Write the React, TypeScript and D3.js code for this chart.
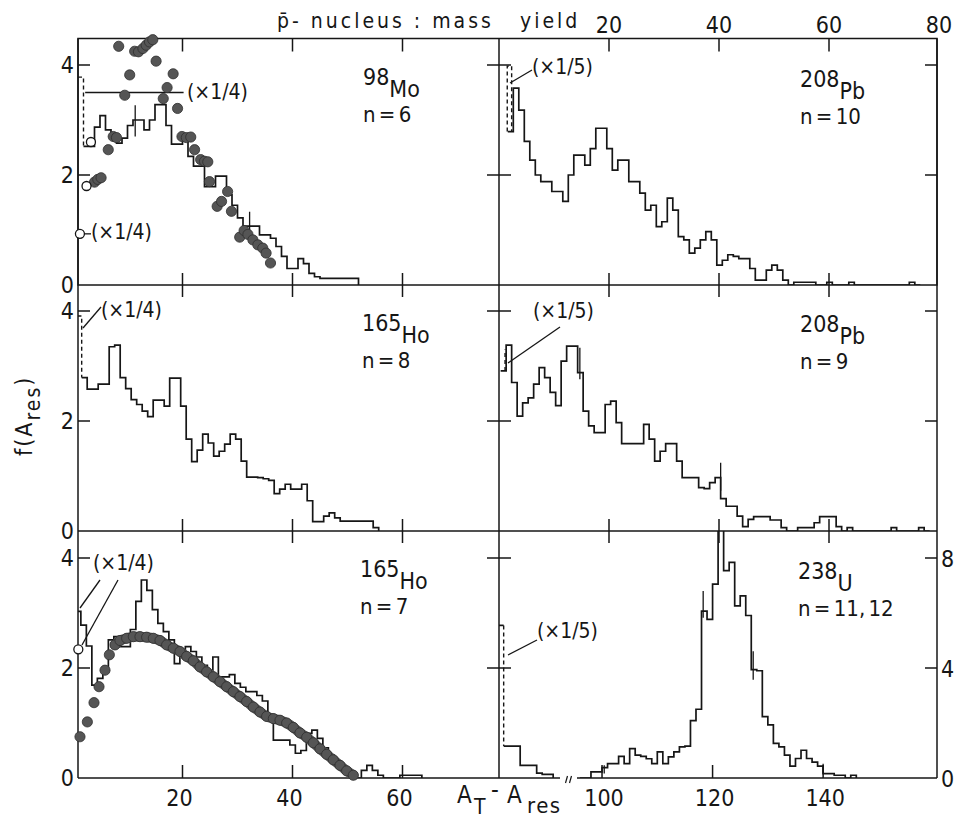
import React from "react";
import * as d3 from "d3";

const FONT = "'DejaVu Sans Condensed', 'Liberation Sans Narrow', 'DejaVu Sans', sans-serif";
const INK = "#161616";
const DOT = "#555555";

// ---------- frame ----------
const X_LEFT = 78;
const X_MID = 499;
const X_RIGHT = 937;
const ROWS = [38.5, 285, 531, 778];

// ---------- axis values ----------
const yTickVals = [2, 4];
const yLabelVals = [0, 2, 4];
const xTickVals = [20, 40, 60];
const topLabelVals = [20, 40, 60, 80];
const bottomLeftLabelVals = [20, 40, 60];
const bottomRightLabelVals = [100, 120, 140];
const uranRightLabelVals = [0, 4, 8];

// ---------- top-left: 98Mo, n = 6 ----------
const moStart = 2;
const moHist = [2.52, 2.52, 2.87, 3.08, 2.82, 2.67, 2.58, 2.67, 2.9, 3.0, 3.0, 2.82, 3.0, 3.28, 3.28, 2.9, 2.56, 2.56, 2.67, 2.34, 2.16, 2.16, 1.79, 1.79, 1.98, 1.98, 1.64, 1.45, 1.22, 1.07, 1.07, 1.07, 0.91, 0.91, 0.85, 0.7, 0.52, 0.3, 0.3, 0.48, 0.39, 0.21, 0.15, 0.12, 0.12, 0.12, 0.12, 0.12, 0.12, 0.12];
const moDashA = [1.0, 2.0, 2.0];
const moDashF = [3.78, 3.78, 2.52];
const moDotA = [4.0, 4.6, 5.2, 6.5, 7.4, 8.0, 8.4, 9.5, 10.4, 11.3, 12.0, 12.8, 13.4, 14.0, 14.6, 15.2, 16.5, 17.2, 18.3, 19.1, 19.9, 20.7, 21.5, 22.2, 23.3, 24.0, 24.6, 24.9, 26.3, 27.1, 28.2, 28.9, 30.4, 31.2, 31.9, 32.8, 33.7, 34.6, 35.2, 36.0];
const moDotF = [1.87, 1.92, 1.95, 2.46, 2.7, 2.68, 4.34, 3.45, 3.82, 4.25, 4.24, 4.3, 4.36, 4.42, 4.46, 4.07, 3.39, 3.59, 3.84, 3.21, 2.7, 2.68, 2.69, 2.46, 2.28, 2.25, 2.24, 1.88, 1.43, 1.52, 1.7, 1.34, 0.87, 0.99, 0.92, 0.82, 0.73, 0.67, 0.58, 0.4];
const moOpenA = [1.35, 2.55, 3.35];
const moOpenF = [0.93, 1.8, 2.6];
const moRefA = [2.3, 20.2];
const moRefF = 3.5;
const moErrA = [11.4, 32.2];
const moErrLo = [2.7, 0.82];
const moErrHi = [3.27, 1.33];

// ---------- top-right: 208Pb, n = 10 ----------
const pb10Start = 1.6;
const pb10Hist = [2.79, 3.58, 3.18, 2.61, 2.27, 2.0, 1.88, 1.88, 1.7, 1.7, 1.52, 2.0, 2.36, 2.36, 2.18, 2.48, 2.85, 2.85, 2.48, 2.09, 2.27, 2.27, 1.88, 1.88, 1.67, 1.36, 1.45, 1.06, 1.15, 1.58, 1.36, 0.88, 0.82, 0.58, 0.67, 0.82, 0.97, 0.82, 0.36, 0.45, 0.55, 0.52, 0.48, 0.48, 0.3, 0.09, 0.09, 0.27, 0.36, 0.27, 0.09, 0, 0.05, 0.05, 0.05, 0.05, 0, 0, 0.05, 0, 0, 0, 0.05, 0, 0, 0, 0, 0, 0, 0, 0, 0, 0, 0.05, 0];
const pb10DashA = [1.5, 1.5, 2.3, 2.3];
const pb10DashF = [2.79, 3.98, 3.98, 2.79];

// ---------- middle-left: 165Ho, n = 8 ----------
const ho8Start = 1.67;
const ho8Hist = [2.79, 2.58, 2.58, 2.67, 2.67, 3.35, 3.38, 2.79, 2.59, 2.39, 2.3, 2.18, 2.08, 2.38, 2.38, 2.27, 2.78, 2.78, 2.27, 1.67, 1.26, 1.47, 1.76, 1.6, 1.36, 1.45, 1.58, 1.76, 1.67, 1.27, 0.98, 0.98, 0.97, 0.95, 0.92, 0.68, 0.76, 0.85, 0.76, 0.76, 0.85, 0.55, 0.17, 0.17, 0.27, 0.33, 0.24, 0.18, 0.18, 0.18, 0.18, 0.18, 0.18, 0.06];
const ho8DashA = [0.9, 1.67, 1.67];
const ho8DashF = [3.91, 3.91, 2.79];

// ---------- middle-right: 208Pb, n = 9 ----------
const pb9Start = 0.3;
const pb9Hist = [2.91, 3.38, 2.7, 2.09, 2.33, 2.42, 2.67, 2.97, 2.79, 2.52, 2.28, 3.09, 3.36, 3.36, 2.88, 2.18, 1.91, 1.79, 1.79, 2.3, 2.36, 1.97, 1.59, 1.59, 1.59, 1.59, 1.94, 1.67, 1.27, 1.45, 1.59, 1.59, 1.27, 0.97, 0.97, 0.97, 0.79, 0.77, 0.88, 0.97, 0.59, 0.45, 0.45, 0.27, 0.08, 0.21, 0.26, 0.26, 0.26, 0.2, 0.2, 0.06, 0, 0, 0.06, 0.06, 0.06, 0.15, 0.26, 0.26, 0.26, 0.08, 0, 0.06, 0, 0, 0, 0, 0, 0, 0, 0.06, 0, 0, 0, 0, 0.06, 0];
const pb9DashA = [1.1, 1.1];
const pb9DashF = [2.91, 3.3];
const pb9ErrA = [14.7, 40.3];
const pb9ErrLo = [2.76, 0.73];
const pb9ErrHi = [3.33, 1.24];

// ---------- bottom-left: 165Ho, n = 7 ----------
const ho7Start = 0.52;
const ho7Hist = [3.03, 2.78, 2.4, 1.69, 1.81, 1.93, 2.51, 2.57, 2.39, 2.39, 2.7, 3.21, 3.6, 3.41, 3.06, 2.81, 2.66, 2.51, 2.08, 2.3, 2.39, 2.3, 2.2, 2.05, 1.95, 2.2, 1.84, 1.84, 1.88, 1.72, 1.65, 1.57, 1.57, 1.5, 1.4, 1.05, 0.69, 0.69, 0.69, 0.6, 0.45, 0.5, 0.81, 0.87, 0.72, 0.55, 0.42, 0.3, 0.18, 0.07, 0, 0, 0.14, 0.23, 0.14, 0.05, 0, 0, 0, 0.05, 0.05, 0.05, 0.05];
const ho7CurveA = [1.36, 2.7, 3.91, 4.82, 5.91, 6.7, 7.73, 8.64, 9.85, 11.06, 12.27, 13.48, 14.7, 15.91, 17.12, 18.33, 19.55, 20.76, 21.97, 23.18, 24.39, 25.61, 26.82, 28.03, 29.24, 30.45, 31.67, 32.88, 34.09, 35.3, 36.52, 37.73, 38.94, 40.15, 41.36, 42.58, 43.79, 45.0, 46.21, 47.42, 48.64, 49.85, 51.06];
const ho7CurveF = [0.75, 1.02, 1.37, 1.66, 1.96, 2.24, 2.42, 2.5, 2.54, 2.57, 2.57, 2.56, 2.54, 2.5, 2.42, 2.36, 2.3, 2.21, 2.13, 2.02, 1.93, 1.84, 1.75, 1.66, 1.57, 1.48, 1.39, 1.29, 1.2, 1.12, 1.08, 1.05, 1.0, 0.92, 0.82, 0.74, 0.64, 0.53, 0.43, 0.33, 0.23, 0.13, 0.05];
const ho7OpenA = [1.06];
const ho7OpenF = [2.34];

// ---------- bottom-right: 238U, n = 11, 12 (right-hand scale) ----------
const uLowStart = 0.85;
const uLowHist = [1.16, 1.16, 1.16, 0.46, 0.46, 0.46, 0.18, 0.13, 0.13];
const uFirstA = [-0.2, 0.85];
const uFirstF = 5.55;
const uHighStart = 96;
const uHighHist = [0, 0, 0.22, 0.22, 0.38, 0.52, 0.52, 0.79, 0.52, 1.07, 0.83, 0.79, 0.7, 0.52, 0.95, 0.52, 0.77, 0.95, 1.13, 1.16, 2.09, 2.5, 6.07, 5.77, 7.05, 9.3, 7.54, 7.84, 6.26, 6.62, 5.91, 3.94, 3.9, 2.23, 1.93, 1.26, 1.13, 0.83, 0.43, 0.71, 1.01, 0.71, 0.58, 0.43, 0.16, 0.16, 0.1, 0.1, 0, 0.1];
const uErrA = [118.3, 127.35, 100.4, 140.0];
const uErrLo = [5.83, 3.57, 0.16, 0.16];
const uErrHi = [6.8, 4.61, 0.46, 0.52];

type Scale = d3.ScaleLinear<number, number>;

function stepPath(x: Scale, y: Scale, start: number, vals: number[]) {
  const pts: [number, number][] = vals.map((v, i) => [start + i, v]);
  pts.push([start + vals.length, 0]);
  return d3
    .line<[number, number]>()
    .x((d) => x(d[0]))
    .y((d) => y(d[1]))
    .curve(d3.curveStepAfter)(pts) as string;
}

function polyPath(x: Scale, y: Scale, xs: number[], fs: number[]) {
  const pts: [number, number][] = xs.map((a, i) => [a, fs[i]]);
  return d3
    .line<[number, number]>()
    .x((d) => x(d[0]))
    .y((d) => y(d[1]))(pts) as string;
}

export default function App() {
  const xL = d3.scaleLinear().domain([0, 80]).range([72.5, 512.5]);
  const xR = d3.scaleLinear().domain([0, 80]).range([499, 939]);
  const xU = d3.scaleLinear().domain([0, 12.5, 93.8, 160.6]).range([499, 567.75, 567.75, 937]);
  const yRow = (r: number) =>
    d3.scaleLinear().domain([0, 4.48]).range([ROWS[r + 1], ROWS[r + 1] - 4.48 * 55]);
  const y0 = yRow(0);
  const y1 = yRow(1);
  const y2 = yRow(2);
  const yU = d3.scaleLinear().domain([0, 8.96]).range([ROWS[3], ROWS[3] - 4.48 * 55]);

  const lineProps = { fill: "none", stroke: INK, strokeWidth: 1.5 } as const;
  const histProps = { fill: "none", stroke: INK, strokeWidth: 1.7, strokeLinejoin: "miter" as const };
  const dashProps = { fill: "none", stroke: INK, strokeWidth: 1.4, strokeDasharray: "4 3" };
  const textProps = { fontFamily: FONT, fill: INK };

  const clip = (id: string, x0: number, x1: number, r: number) => (
    <clipPath id={id}>
      <rect x={x0} y={ROWS[r]} width={x1 - x0} height={ROWS[r + 1] - ROWS[r]} />
    </clipPath>
  );

  const ticks: JSX.Element[] = [];
  [y0, y1, y2].forEach((ys, r) => {
    yTickVals.forEach((v) => {
      const yy = ys(v);
      ticks.push(<line key={`tl${r}${v}`} x1={X_LEFT} x2={X_LEFT + 12} y1={yy} y2={yy} {...lineProps} />);
      ticks.push(<line key={`tm${r}${v}`} x1={X_MID - 12} x2={X_MID + 12} y1={yy} y2={yy} {...lineProps} />);
      ticks.push(<line key={`tr${r}${v}`} x1={X_RIGHT - 12} x2={X_RIGHT} y1={yy} y2={yy} {...lineProps} />);
    });
  });
  xTickVals.forEach((v) => {
    [xL(v), xR(v)].forEach((xx, k) => {
      ticks.push(<line key={`tt${v}${k}`} x1={xx} x2={xx} y1={ROWS[0]} y2={ROWS[0] + 13} {...lineProps} />);
      ticks.push(<line key={`t1${v}${k}`} x1={xx} x2={xx} y1={ROWS[1] - 12} y2={ROWS[1] + 12} {...lineProps} />);
      ticks.push(<line key={`t2${v}${k}`} x1={xx} x2={xx} y1={ROWS[2] - 12} y2={ROWS[2] + 12} {...lineProps} />);
    });
    ticks.push(<line key={`tb${v}`} x1={xL(v)} x2={xL(v)} y1={ROWS[3] - 13} y2={ROWS[3]} {...lineProps} />);
  });
  bottomRightLabelVals.forEach((v) => {
    ticks.push(<line key={`tbu${v}`} x1={xU(v)} x2={xU(v)} y1={ROWS[3] - 13} y2={ROWS[3]} {...lineProps} />);
  });

  const dots = (x: Scale, y: Scale, as: number[], fs: number[], key: string) =>
    as.map((a, i) => (
      <circle key={`${key}${i}`} cx={x(a)} cy={y(fs[i])} r={5.1} fill={DOT} stroke="#2e2e2e" strokeWidth={0.8} />
    ));
  const opens = (x: Scale, y: Scale, as: number[], fs: number[], key: string) =>
    as.map((a, i) => (
      <circle key={`${key}${i}`} cx={x(a)} cy={y(fs[i])} r={4.5} fill="#fff" stroke={INK} strokeWidth={1.3} />
    ));
  const errs = (x: Scale, y: Scale, as: number[], lo: number[], hi: number[], key: string) =>
    as.map((a, i) => (
      <line key={`${key}${i}`} x1={x(a)} x2={x(a)} y1={y(lo[i])} y2={y(hi[i])} stroke={INK} strokeWidth={1.3} />
    ));

  const curvePts: [number, number][] = ho7CurveA.map((a, i) => [a, ho7CurveF[i]]);
  const band = d3
    .line<[number, number]>()
    .x((d) => xL(d[0]))
    .y((d) => y2(d[1]))
    .curve(d3.curveMonotoneX)(curvePts.slice(6)) as string;

  const panelLabel = (x: number, yb: number, mass: string, el: string, n: string) => (
    <g>
      <text x={x} y={yb} fontSize={23} {...textProps}>
        {mass}
        <tspan dy={12}>{el}</tspan>
      </text>
      <text x={x} y={yb + 37} fontSize={22} wordSpacing={-3} {...textProps}>
        {n}
      </text>
    </g>
  );

  const note = (x: number, y: number, s: string) => (
    <text x={x} y={y} fontSize={21} {...textProps}>
      {s}
    </text>
  );

  return (
    <svg
      width={957}
      height={818}
      viewBox="0 0 957 818"
      style={{ position: "absolute", left: 0, top: 0, background: "#fff" }}
    >
      <defs>
        {clip("cTL", X_LEFT, X_MID, 0)}
        {clip("cTR", X_MID, X_RIGHT, 0)}
        {clip("cML", X_LEFT, X_MID, 1)}
        {clip("cMR", X_MID, X_RIGHT, 1)}
        {clip("cBL", X_LEFT, X_MID, 2)}
        {clip("cBR", X_MID, X_RIGHT, 2)}
      </defs>
      <rect x={0} y={0} width={957} height={818} fill="#fff" />

      {/* frame */}
      <rect x={X_LEFT} y={ROWS[0]} width={X_RIGHT - X_LEFT} height={ROWS[1] - ROWS[0]} {...lineProps} />
      <line x1={X_LEFT} x2={X_LEFT} y1={ROWS[0]} y2={ROWS[3]} {...lineProps} />
      <line x1={X_RIGHT} x2={X_RIGHT} y1={ROWS[0]} y2={ROWS[3]} {...lineProps} />
      <line x1={X_MID} x2={X_MID} y1={ROWS[0]} y2={ROWS[3]} {...lineProps} />
      <line x1={X_LEFT} x2={X_RIGHT} y1={ROWS[2]} y2={ROWS[2]} {...lineProps} />
      <line x1={X_LEFT} x2={560} y1={ROWS[3]} y2={ROWS[3]} {...lineProps} />
      <line x1={577} x2={X_RIGHT} y1={ROWS[3]} y2={ROWS[3]} {...lineProps} />
      <line x1={565.5} x2={567.5} y1={783} y2={776} stroke={INK} strokeWidth={1.2} />
      <line x1={569.5} x2={571.5} y1={783} y2={776} stroke={INK} strokeWidth={1.2} />
      {ticks}

      {/* top-left */}
      <g clipPath="url(#cTL)">
        <path d={stepPath(xL, y0, moStart, moHist)} {...histProps} />
        <path d={polyPath(xL, y0, moDashA, moDashF)} {...dashProps} />
        <line x1={xL(moRefA[0])} x2={xL(moRefA[1])} y1={y0(moRefF)} y2={y0(moRefF)} stroke={INK} strokeWidth={1.4} />
        {errs(xL, y0, moErrA, moErrLo, moErrHi, "me")}
      </g>
      {dots(xL, y0, moDotA, moDotF, "md")}
      {opens(xL, y0, moOpenA, moOpenF, "mo")}
      <line x1={xL(moOpenA[0]) + 4.5} x2={91} y1={y0(moOpenF[0])} y2={y0(moOpenF[0])} stroke={INK} strokeWidth={1.3} />
      {note(91, 239, "(×1/4)")}
      {note(187, 99, "(×1/4)")}

      {/* top-right */}
      <g clipPath="url(#cTR)">
        <path d={stepPath(xR, y0, pb10Start, pb10Hist)} {...histProps} />
        <path d={polyPath(xR, y0, pb10DashA, pb10DashF)} {...dashProps} />
      </g>
      <line x1={510} y1={83} x2={532} y2={70} stroke={INK} strokeWidth={1.3} />
      {note(532, 74, "(×1/5)")}

      {/* middle-left */}
      <g clipPath="url(#cML)">
        <path d={stepPath(xL, y1, ho8Start, ho8Hist)} {...histProps} />
        <path d={polyPath(xL, y1, ho8DashA, ho8DashF)} {...dashProps} />
      </g>
      <line x1={83} y1={328} x2={101} y2={307} stroke={INK} strokeWidth={1.3} />
      {note(101, 317, "(×1/4)")}

      {/* middle-right */}
      <g clipPath="url(#cMR)">
        <path d={stepPath(xR, y1, pb9Start, pb9Hist)} {...histProps} />
        <path d={polyPath(xR, y1, pb9DashA, pb9DashF)} {...dashProps} />
        {errs(xR, y1, pb9ErrA, pb9ErrLo, pb9ErrHi, "pe")}
      </g>
      <line x1={508} y1={363} x2={560} y2={327} stroke={INK} strokeWidth={1.3} />
      {note(533, 318, "(×1/5)")}

      {/* bottom-left */}
      <g clipPath="url(#cBL)">
        <path d={stepPath(xL, y2, ho7Start, ho7Hist)} {...histProps} />
      </g>
      <path d={band} fill="none" stroke={DOT} strokeWidth={10} strokeLinecap="round" />
      {dots(xL, y2, ho7CurveA, ho7CurveF, "hd")}
      {opens(xL, y2, ho7OpenA, ho7OpenF, "ho")}
      <line x1={80} y1={608} x2={100} y2={580} stroke={INK} strokeWidth={1.3} />
      <line x1={82} y1={645} x2={118} y2={580} stroke={INK} strokeWidth={1.3} />
      {note(93, 570, "(×1/4)")}

      {/* bottom-right */}
      <g clipPath="url(#cBR)">
        <line x1={xU(uFirstA[0])} x2={xU(uFirstA[1])} y1={yU(uFirstF)} y2={yU(uFirstF)} stroke={INK} strokeWidth={1.7} />
        <line x1={xU(uFirstA[1])} x2={xU(uFirstA[1])} y1={yU(uFirstF)} y2={yU(uLowHist[0])} {...dashProps} />
        <path d={stepPath(xU, yU, uLowStart, uLowHist)} {...histProps} />
        <path d={stepPath(xU, yU, uHighStart, uHighHist)} {...histProps} />
        {errs(xU, yU, uErrA, uErrLo, uErrHi, "ue")}
      </g>
      <line x1={508} y1={655} x2={537} y2={640} stroke={INK} strokeWidth={1.3} />
      {note(537, 638, "(×1/5)")}

      {/* panel labels */}
      {panelLabel(363, 85, "98", "Mo", "n = 6")}
      {panelLabel(800, 87, "208", "Pb", "n = 10")}
      {panelLabel(362, 331, "165", "Ho", "n = 8")}
      {panelLabel(800, 332, "208", "Pb", "n = 9")}
      {panelLabel(360, 577, "165", "Ho", "n = 7")}
      {panelLabel(798, 579, "238", "U", "n = 11, 12")}

      {/* y tick labels */}
      {[y0, y1, y2].map((ys, r) =>
        yLabelVals.map((v) => (
          <text key={`yl${r}${v}`} x={74} y={ys(v) + 8} textAnchor="end" fontSize={23} {...textProps}>
            {v}
          </text>
        ))
      )}
      {uranRightLabelVals.map((v) => (
        <text key={`ur${v}`} x={941} y={yU(v) + 9} fontSize={23} {...textProps}>
          {v}
        </text>
      ))}
      {/* top labels */}
      {topLabelVals.map((v) => (
        <text key={`tl${v}`} x={xR(v)} y={33} textAnchor="middle" fontSize={23} {...textProps}>
          {v}
        </text>
      ))}
      {/* bottom labels */}
      {bottomLeftLabelVals.map((v) => (
        <text key={`bl${v}`} x={xL(v) - 3} y={806} textAnchor="middle" fontSize={23} {...textProps}>
          {v}
        </text>
      ))}
      {bottomRightLabelVals.map((v) => (
        <text key={`br${v}`} x={xU(v) + 2} y={806} textAnchor="middle" fontSize={23} {...textProps}>
          {v}
        </text>
      ))}

      {/* title */}
      <text y={28} fontSize={21} letterSpacing={3} {...textProps}>
        <tspan x={277}>{"p\u0304- nucleus : mass"}</tspan>
        <tspan x={520}>yield</tspan>
      </text>

      {/* x axis title */}
      <text fontSize={24} {...textProps}>
        <tspan x={457} y={803}>A</tspan>
        <tspan x={474} y={814} fontSize={21}>T</tspan>
        <tspan x={491} y={798}>-</tspan>
        <tspan x={507} y={803}>A</tspan>
        <tspan x={527} y={813} fontSize={22} letterSpacing={1.5}>res</tspan>
      </text>

      {/* y axis title */}
      <text transform="translate(31.5,456) rotate(-90)" fontSize={23} letterSpacing={2} {...textProps}>
        f(A<tspan dy={8} fontSize={21}>res</tspan>
        <tspan dy={-8}>)</tspan>
      </text>
    </svg>
  );
}
